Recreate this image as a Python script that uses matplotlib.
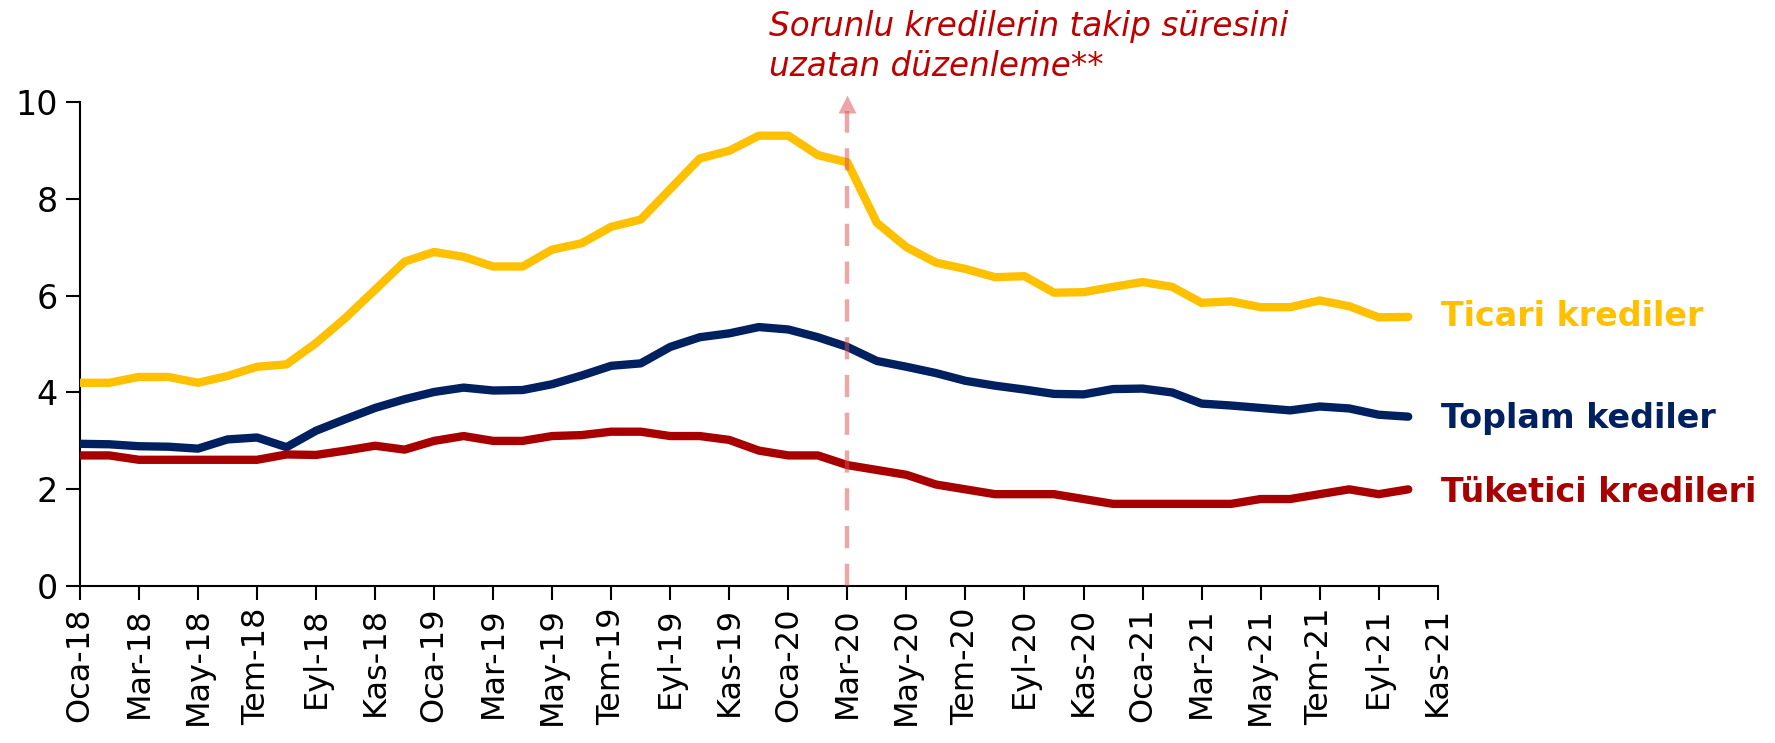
import matplotlib
matplotlib.use("Agg")
import matplotlib.pyplot as plt

months = ["Oca", "Şub", "Mar", "Nis", "May", "Haz", "Tem", "Ağu", "Eyl", "Eki", "Kas", "Ara"]
years = ["18", "19", "20", "21"]
dates = [f"{m}-{y}" for y in years for m in months][:47]   # Oca-18 .. Kas-21

ticari = [4.2, 4.2, 4.32, 4.32, 4.2, 4.34, 4.53, 4.58, 5.02, 5.54,
          6.12, 6.7, 6.9, 6.8, 6.6, 6.6, 6.95, 7.08, 7.42, 7.57,
          8.2, 8.83, 8.99, 9.3, 9.3, 8.9, 8.75, 7.5, 7.0, 6.68,
          6.55, 6.38, 6.4, 6.06, 6.07, 6.18, 6.28, 6.18, 5.85, 5.88,
          5.76, 5.76, 5.9, 5.78, 5.55, 5.56]
toplam = [2.94, 2.93, 2.89, 2.88, 2.84, 3.03, 3.07, 2.87, 3.21, 3.45,
          3.68, 3.86, 4.01, 4.1, 4.04, 4.05, 4.17, 4.35, 4.55, 4.6,
          4.94, 5.14, 5.22, 5.35, 5.3, 5.14, 4.94, 4.65, 4.53, 4.4,
          4.24, 4.14, 4.06, 3.97, 3.96, 4.07, 4.08, 4.0, 3.77, 3.73,
          3.68, 3.63, 3.71, 3.67, 3.54, 3.5]
tuketici = [2.7, 2.7, 2.61, 2.61, 2.61, 2.61, 2.61, 2.72, 2.71, 2.8,
            2.9, 2.82, 3.0, 3.1, 3.0, 3.0, 3.1, 3.12, 3.19, 3.19,
            3.1, 3.1, 3.02, 2.8, 2.7, 2.7, 2.5, 2.4, 2.3, 2.1,
            2.0, 1.9, 1.9, 1.9, 1.8, 1.7, 1.7, 1.7, 1.7, 1.7,
            1.8, 1.8, 1.9, 2.0, 1.9, 2.0]
series_names = ["Ticari krediler", "Toplam kediler", "Tüketici kredileri"]
event_label = "Mar-20"
event_text = "Sorunlu kredilerin takip süresini\nuzatan düzenleme**"

c_yellow = "#FFC000"
c_navy = "#002060"
c_red = "#A80000"

fig = plt.figure(figsize=(17.75, 7.43), dpi=100)
ax = fig.add_axes([0.045, 0.211, 0.765, 0.652])

x = list(range(len(ticari)))
for vals, col in [(ticari, c_yellow), (toplam, c_navy), (tuketici, c_red)]:
    ax.plot(x, vals, color=col, lw=6, solid_capstyle="round", solid_joinstyle="round", zorder=3)

ax.set_xlim(0, len(dates) - 1)
ax.set_ylim(0, 10)
ax.set_yticks(range(0, 11, 2))
tick_pos = list(range(0, len(dates), 2))
ax.set_xticks(tick_pos)
ax.set_xticklabels([dates[i] for i in tick_pos], rotation=90, fontsize=23, family="DejaVu Sans")
ax.tick_params(axis="y", labelsize=24, length=10, width=1.5, direction="out", pad=6)
ax.tick_params(axis="x", length=10, width=1.5, direction="out", pad=5)
for s in ["top", "right"]:
    ax.spines[s].set_visible(False)
for s in ["left", "bottom"]:
    ax.spines[s].set_linewidth(1.5)
    ax.spines[s].set_color("black")

# event marker
ex = dates.index(event_label)
ax.plot([ex, ex], [0, 9.8], color="#D95050", alpha=0.5, lw=3.2, dashes=(5, 3.5), zorder=4, clip_on=False)
ax.plot([ex], [9.95], marker="^", markersize=13, color="#D95050", alpha=0.5, mec="none", zorder=4, clip_on=False)
ax.text(ex - 2.65, 11.14, event_text, color="#C00000", fontsize=23.5, style="italic",
        ha="left", va="center", linespacing=1.3, clip_on=False)

# right-side labels
lab_x = len(dates) - 1 + 0.1
lab_kw = dict(fontsize=24, fontweight="bold", ha="left", va="center", clip_on=False)
ax.text(lab_x, 5.56, series_names[0], color=c_yellow, **lab_kw)
ax.text(lab_x, 3.46, series_names[1], color=c_navy, **lab_kw)
ax.text(lab_x, 1.94, series_names[2], color=c_red, **lab_kw)

fig.savefig("out.png", dpi=100)
